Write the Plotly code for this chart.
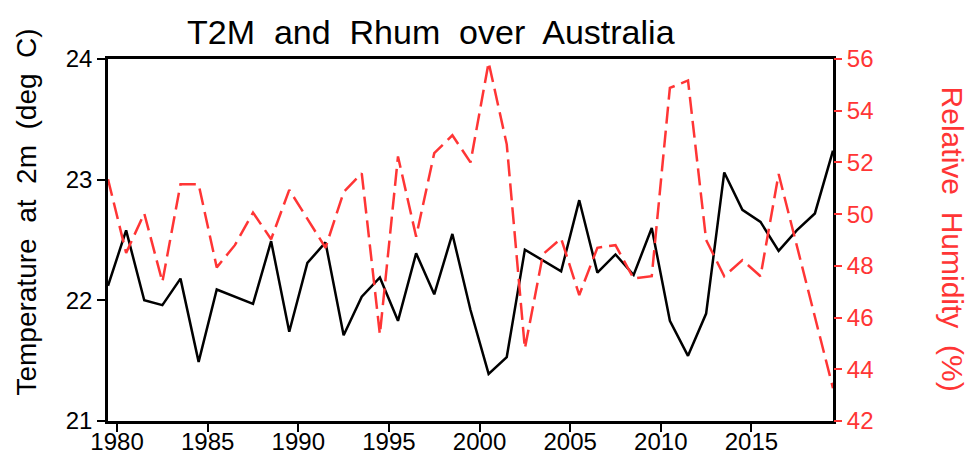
import plotly.graph_objects as go

years = list(range(1979, 2020))
t2m = [22.12, 22.58, 22.00, 21.96, 22.18, 21.49, 22.09, 22.03, 21.97, 22.49,
       21.74, 22.31, 22.48, 21.71, 22.03, 22.19, 21.83, 22.39, 22.05, 22.55,
       21.92, 21.39, 21.53, 22.42, 22.33, 22.24, 22.83, 22.23, 22.38, 22.21,
       22.60, 21.83, 21.54, 21.89, 23.06, 22.75, 22.65, 22.41, 22.58, 22.72,
       23.24]
rhum = [51.35, 48.50, 50.03, 47.38, 51.16, 51.15, 47.94, 48.80, 50.06, 49.03,
        50.94, 49.82, 48.70, 50.85, 51.58, 45.35, 52.23, 49.13, 52.36, 53.05,
        52.00, 55.87, 52.70, 44.80, 48.45, 49.06, 46.87, 48.70, 48.80, 47.51,
        47.60, 54.88, 55.17, 49.00, 47.60, 48.22, 47.60, 51.55, 48.80, 46.03,
        43.27]
x_ticks = [1980, 1985, 1990, 1995, 2000, 2005, 2010, 2015]
y_ticks = [21, 22, 23, 24]
y2_ticks = [42, 44, 46, 48, 50, 52, 54, 56]

RED = "#ff3535"
FONT = "Liberation Sans, Arial, sans-serif"

xmid = [y + 0.5 for y in years]  # annual means plotted at mid-year

# page body has an 8px default margin; size the figure so it fits the window
W, H = 971, 449
L, T, R, B = 100.3, 51.3, 146.3, 36.3
PW, PH = W - L - R, H - T - B


def px_x(px):
    return (px - 8 - L) / PW


def px_y(py):
    return (H - B - (py - 8)) / PH


fig = go.Figure()
fig.add_trace(go.Scatter(x=xmid, y=t2m, mode="lines",
                         line=dict(color="black", width=2.5), yaxis="y"))
fig.add_trace(go.Scatter(x=xmid, y=rhum, mode="lines",
                         line=dict(color=RED, width=2.5, dash="17px,7px"),
                         yaxis="y2"))

fig.update_layout(
    width=W, height=H, autosize=False,
    margin=dict(l=L, r=R, t=T, b=B, pad=0),
    paper_bgcolor="white", plot_bgcolor="white",
    showlegend=False,
    font=dict(family=FONT, size=24, color="black"),
    xaxis=dict(range=[1979.5, 2019.5], tickvals=x_ticks,
               ticktext=[str(v) for v in x_ticks], automargin=False,
               showgrid=False, zeroline=False,
               showline=True, linecolor="black", linewidth=2.5, mirror=True,
               ticks="outside", ticklen=8, tickwidth=2, tickcolor="black",
               ticklabelstandoff=-11,
               tickfont=dict(size=24, color="black")),
    yaxis=dict(range=[21, 24], tickvals=y_ticks, automargin=False,
               showgrid=False, zeroline=False,
               showline=True, linecolor="black", linewidth=2.5, mirror=True,
               ticks="outside", ticklen=8, tickwidth=2, tickcolor="black",
               tickfont=dict(size=24, color="black")),
    yaxis2=dict(range=[42, 56], tickvals=y2_ticks, overlaying="y",
                side="right", automargin=False, showgrid=False,
                zeroline=False, showline=False,
                ticks="outside", ticklen=8, tickwidth=2, tickcolor=RED,
                tickfont=dict(size=24, color=RED)),
    annotations=[
        dict(text="T2M  and  Rhum  over  Australia", xref="paper", yref="paper",
             x=px_x(431), y=px_y(32), xanchor="center",
             yanchor="middle", showarrow=False,
             font=dict(size=34, color="black", family=FONT)),
        dict(text="Temperature  at  2m  (deg  C)", xref="paper", yref="paper",
             x=px_x(27), y=px_y(212), xanchor="center",
             yanchor="middle", textangle=-90, showarrow=False,
             font=dict(size=28, color="black", family=FONT)),
        dict(text="Relative  Humidity  (%)", xref="paper", yref="paper",
             x=px_x(952), y=px_y(239), xanchor="center",
             yanchor="middle", textangle=90, showarrow=False,
             font=dict(size=30, color=RED, family=FONT)),
    ],
)

fig.write_html("out.html")
